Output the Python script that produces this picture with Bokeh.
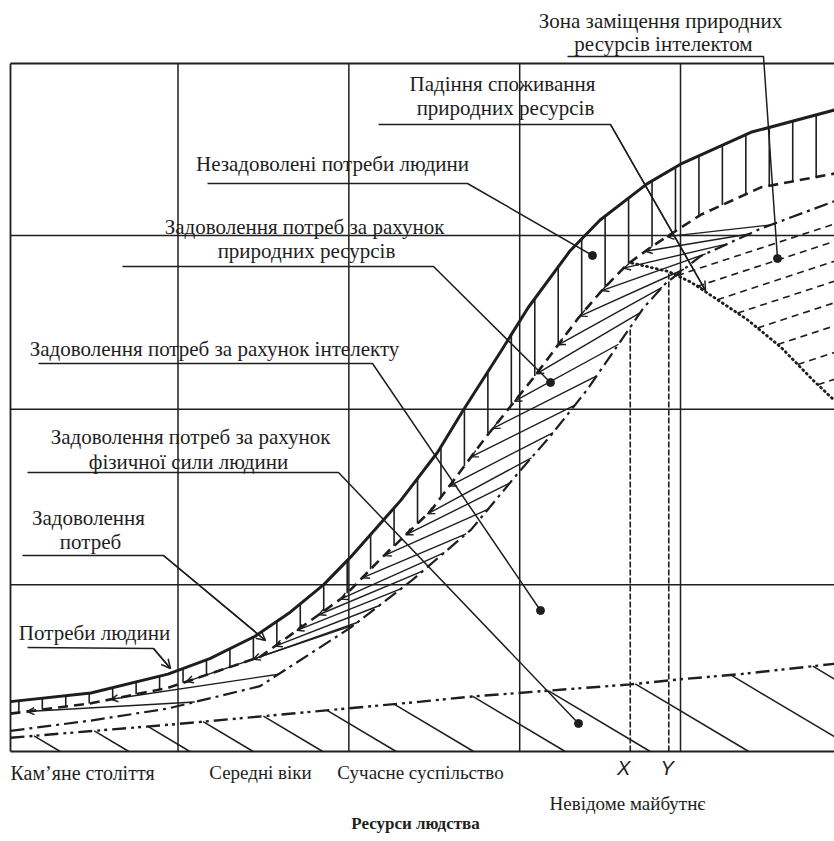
import numpy as np
from bokeh.plotting import figure
from bokeh.models import Range1d, Arrow, OpenHead, ColumnDataSource
from bokeh.core.properties import value
from bokeh.embed import file_html
from bokeh.resources import INLINE

# ---------------- data (grid units: one cell = one era / one resource level) -------------
period_bounds = [0.0, 1.0, 2.02, 3.04, 4.0]
level_bounds = [0.0, 0.97, 1.99, 3.0, 4.0]
period_labels = ["Кам’яне століття", "Середні віки", "Сучасне суспільство"]
future_label = "Невідоме майбутнє"
point_labels = ["X", "Y"]
point_pos = [3.70, 3.93]
title_text = "Ресурси людства"

# needs of people (thick solid)
needs_x = [0.00, 0.48, 0.94, 1.19, 1.46, 1.67, 1.87, 2.03, 2.33, 2.55, 2.70, 2.93, 3.09, 3.34, 3.52, 3.80, 4.01, 4.42, 4.92]
needs_y = [0.29, 0.34, 0.45, 0.54, 0.67, 0.81, 0.97, 1.13, 1.46, 1.74, 1.98, 2.33, 2.58, 2.91, 3.09, 3.30, 3.42, 3.60, 3.73]
# satisfaction of needs (thick dashed)
satisf_x = [0.00, 0.48, 0.94, 1.49, 1.99, 2.21, 2.51, 2.84, 3.12, 3.39, 3.53, 3.68, 3.82, 4.12, 4.48, 4.92]
satisf_y = [0.22, 0.28, 0.37, 0.55, 0.90, 1.12, 1.40, 1.83, 2.17, 2.52, 2.68, 2.83, 2.93, 3.12, 3.28, 3.36]
# boundary natural resources / intellect (dash-dot)
intel_x = [0.00, 0.48, 0.94, 1.49, 2.03, 2.39, 2.75, 3.04, 3.22, 3.44, 3.66, 3.78, 3.91, 4.12, 4.48, 4.92]
intel_y = [0.12, 0.18, 0.25, 0.38, 0.72, 0.99, 1.29, 1.63, 1.83, 2.10, 2.41, 2.58, 2.72, 2.88, 3.04, 3.20]
# physical strength (dash-dot-dot)
phys_x = [0.00, 1.00, 2.01, 2.45, 2.76, 3.70, 4.00, 4.36, 4.92]
phys_y = [0.08, 0.16, 0.25, 0.29, 0.32, 0.39, 0.42, 0.45, 0.51]
# fall of natural resource consumption (dotted)
fall_x = [3.71, 3.93, 4.06, 4.20, 4.40, 4.60, 4.79, 4.92]
fall_y = [2.84, 2.79, 2.73, 2.64, 2.51, 2.35, 2.16, 2.04]

# hatch positions
vhatch_x = np.arange(0.05, 4.92, 0.14)
phys_hatch_x = [0.14, 0.50, 0.82, 1.15, 1.51, 1.89, 2.29, 2.76, 3.21, 3.73, 4.30, 4.79]
chev_x = [0.10, 0.60, 1.05] + list(np.arange(1.45, 4.0, 0.13))
repl_x = list(np.arange(3.98, 4.90, 0.12))

# ---------------- layout helpers (screen px -> data) ----------------
SX, SY, X0, Y0 = 167.5, 172.0, 10.0, 751.0
def ux(px): return (px - X0) / SX
def uy(py): return (Y0 - py) / SY

INK = "#1e1e1e"
SERIF = value("'Liberation Serif', 'Times New Roman', serif")

W, H = 834, 841
p = figure(width=W, height=H, output_backend="svg", toolbar_location=None,
           x_range=Range1d(ux(0), ux(W)), y_range=Range1d(uy(H), uy(0)),
           x_axis_location=None, y_axis_location=None, title=None,
           min_border=0, outline_line_color=None, background_fill_color="white")
p.grid.visible = False

XMAX = ux(834)
# frame + grid
p.segment([0, 0, 0], [0, 0, 4], [0, XMAX, XMAX], [4, 0, 4], line_color=INK, line_width=1.8)
p.segment(period_bounds[1:], [0] * 4, period_bounds[1:], [4] * 4, line_color=INK, line_width=1.5)
p.segment([0] * 3, level_bounds[1:4], [XMAX] * 3, level_bounds[1:4], line_color=INK, line_width=1.5)

# vertical hatch (unsatisfied needs)
ya = np.interp(vhatch_x, needs_x, needs_y)
yb = np.interp(vhatch_x, satisf_x, satisf_y)
p.segment(vhatch_x, ya, vhatch_x, yb, line_color=INK, line_width=1.6)

# physical hatch below dash-dot-dot line
phx = np.array(phys_hatch_x)
phy = np.interp(phx, phys_x, phys_y)
sl = 0.58
ex = phx + phy / sl
ey = np.zeros_like(ex)
over = ex > XMAX
ey[over] = phy[over] - sl * (XMAX - phx[over])
ex[over] = XMAX
p.segment(phx, phy, ex, ey, line_color=INK, line_width=1.5)

# chevron hatch (natural resources) with arrowheads at upper-left end
cx = np.array(chev_x)
dx = np.where(cx < 1.4, 1.0, 0.62)
cy0 = np.interp(cx, satisf_x, satisf_y)
cx1 = np.minimum(cx + dx, XMAX)
cy1 = np.interp(cx1, intel_x, intel_y)
csrc = ColumnDataSource(dict(xs=cx1, ys=cy1, xe=cx, ye=cy0))
p.add_layout(Arrow(end=OpenHead(size=7, line_width=1.4, line_color=INK),
                   x_start="xs", y_start="ys", x_end="xe", y_end="ye", source=csrc,
                   line_color=INK, line_width=1.4))

# replacement zone dashed hatch
rx = np.array(repl_x)
ry = np.interp(rx, fall_x, fall_y)
rey = ry + 0.32 * (XMAX - rx)
p.segment(rx, ry, [XMAX] * len(rx), rey, line_color=INK, line_width=1.6, line_dash="7 5")

# X / Y lines
p.segment([point_pos[0]], [0], [point_pos[0]], [np.interp(point_pos[0], intel_x, intel_y)],
          line_color=INK, line_width=1.6, line_dash="6 2")
p.segment([point_pos[1]], [0], [point_pos[1]], [np.interp(point_pos[1], fall_x, fall_y)],
          line_color=INK, line_width=1.6, line_dash="6 2")

# curves
p.line(phys_x, phys_y, line_color=INK, line_width=2.4, line_dash="14 5 3 4 3 5")
p.line(intel_x, intel_y, line_color=INK, line_width=2.2, line_dash="14 5 3 5")
p.line(satisf_x, satisf_y, line_color=INK, line_width=2.6, line_dash="10 6")
p.line(fall_x, fall_y, line_color=INK, line_width=2.8, line_dash="1 4", line_cap="round")
p.line(needs_x, needs_y, line_color=INK, line_width=3.0)

# leaders
leaders_px = [
    [(567, 56), (763, 56), (777, 258)],
    [(378, 124), (610, 124), (705, 290)],
    [(207, 183), (467, 183), (592, 255)],
    [(122, 266), (433, 266), (550, 382)],
    [(38, 363), (372, 363), (540, 610)],
    [(27, 472), (338, 472), (578, 723)],
    [(22, 555), (163, 555), (265, 640)],
    [(27, 647), (153, 648), (170, 668)],
]
lxs = [[ux(a) for a, b in L] for L in leaders_px]
lys = [[uy(b) for a, b in L] for L in leaders_px]
p.multi_line(lxs, lys, line_color=INK, line_width=1.5)
dot_idx = [0, 2, 3, 4, 5]
p.scatter([lxs[i][-1] for i in dot_idx], [lys[i][-1] for i in dot_idx], size=8, color=INK)
arr_idx = [1, 6, 7]
asrc = ColumnDataSource(dict(xs=[lxs[i][-2] for i in arr_idx], ys=[lys[i][-2] for i in arr_idx],
                             xe=[lxs[i][-1] for i in arr_idx], ye=[lys[i][-1] for i in arr_idx]))
p.add_layout(Arrow(end=OpenHead(size=9, line_width=1.5, line_color=INK),
                   x_start="xs", y_start="ys", x_end="xe", y_end="ye", source=asrc,
                   line_color=INK, line_width=1.5))

# annotation texts
labels = [
    ("Зона заміщення природних", 660, 20),
    ("ресурсів інтелектом", 663, 43),
    ("Падіння споживання", 502, 83),
    ("природних ресурсів", 505, 107),
    ("Незадоволені потреби людини", 332, 163),
    ("Задоволення потреб за рахунок", 304, 226),
    ("природних ресурсів", 306, 250),
    ("Задоволення потреб за рахунок інтелекту", 214, 348),
    ("Задоволення потреб за рахунок", 190, 436),
    ("фізичної сили людини", 188, 461),
    ("Задоволення", 88, 517),
    ("потреб", 90, 541),
    ("Потреби людини", 94, 632),
]
p.text([ux(a) for t, a, b in labels], [uy(b) for t, a, b in labels], text=[t for t, a, b in labels],
       text_font=SERIF, text_font_size="21px", text_align="center", text_baseline="middle",
       text_color=INK)

# bottom labels
p.text([ux(10)], [uy(772)], text=[period_labels[0]], text_font=SERIF, text_font_size="20px",
       text_align="left", text_baseline="middle", text_color=INK)
p.text([ux(260), ux(420)], [uy(772), uy(772)], text=period_labels[1:], text_font=SERIF,
       text_font_size="19px", text_align="center", text_baseline="middle", text_color=INK)
p.text([ux(627)], [uy(803)], text=[future_label], text_font=SERIF, text_font_size="19px",
       text_align="center", text_baseline="middle", text_color=INK)
p.text([point_pos[0] - 0.04, point_pos[1] - 0.01], [uy(767)] * 2, text=point_labels,
       text_font=value("'Liberation Sans', sans-serif"), text_font_style="italic", text_font_size="20px",
       text_align="center", text_baseline="middle", text_color=INK)
p.text([ux(415)], [uy(823)], text=[title_text], text_font=SERIF, text_font_style="bold",
       text_font_size="17px", text_align="center", text_baseline="middle", text_color=INK)

open("out.html", "w").write(file_html(p, INLINE))
